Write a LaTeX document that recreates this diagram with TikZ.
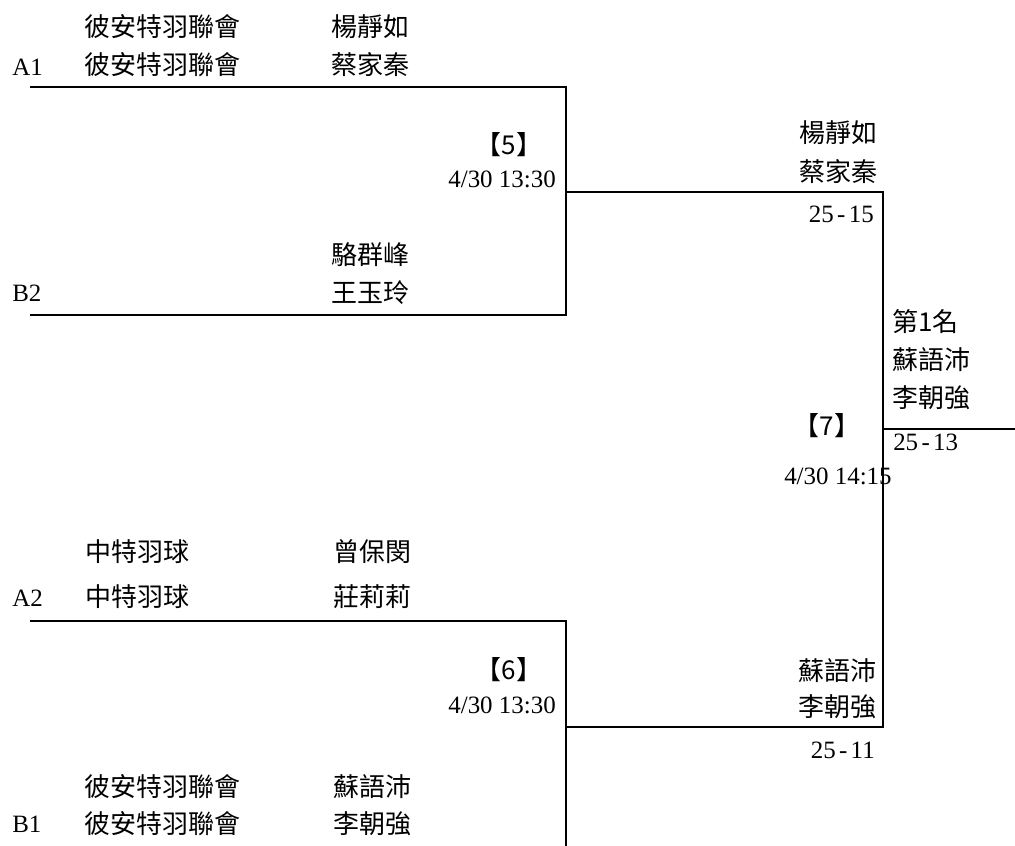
\documentclass[tikz,border=0pt]{standalone}
\usepackage{fontspec}
\setmainfont{Liberation Serif}
\newfontfamily\cjk{Noto Sans CJK TC}
\usepackage{tikz}

\begin{document}
\begin{tikzpicture}[x=0.75pt,y=-0.75pt,
    lbl/.style={inner sep=0pt,font=\fontsize{18.7}{22}\selectfont},
    zh/.style={inner sep=0pt,font=\fontsize{19.5}{23}\selectfont\cjk},
    bline/.style={line width=1.3pt}]
    \useasboundingbox (0,0) rectangle (1015,846);

    % seeds
    \foreach \y/\seed in {67/A1,293/B2,598/A2,824/B1}
        \node[lbl,anchor=west] (seed\seed) at (12,\y) {\seed};

    % clubs
    \node[zh,anchor=west] (clubAa) at (84,27) {彼安特羽聯會};
    \node[zh,anchor=west] (clubAb) at (84,65) {彼安特羽聯會};
    \node[zh,anchor=west] (clubCa) at (85,552) {中特羽球};
    \node[zh,anchor=west] (clubCb) at (85,597) {中特羽球};
    \node[zh,anchor=west] (clubDa) at (84,787) {彼安特羽聯會};
    \node[zh,anchor=west] (clubDb) at (84,824) {彼安特羽聯會};

    % players
    \node[zh,anchor=west] (plA1) at (331,27) {楊靜如};
    \node[zh,anchor=west] (plA2) at (331,65) {蔡家秦};
    \node[zh,anchor=west] (plB1) at (331,255) {駱群峰};
    \node[zh,anchor=west] (plB2) at (331,293) {王玉玲};
    \node[zh,anchor=west] (plC1) at (333,552) {曾保閔};
    \node[zh,anchor=west] (plC2) at (333,597) {莊莉莉};
    \node[zh,anchor=west] (plD1) at (333,787) {蘇語沛};
    \node[zh,anchor=west] (plD2) at (333,824) {李朝強};

    % bracket
    \coordinate (a1) at (30,87);
    \coordinate (b2) at (30,315);
    \coordinate (a2) at (30,621);
    \coordinate (j5) at (566,192);
    \coordinate (j6) at (566,727);
    \coordinate (j6end) at (566,846);
    \coordinate (f5) at (883,192);
    \coordinate (f6) at (883,727);
    \coordinate (j7) at (883,429);
    \coordinate (champ) at (1015,429);

    \draw[bline] (a1) -| (j5) |- (b2);
    \draw[bline] (a2) -| (j6) -- (j6end);
    \draw[bline] (j5) -- (f5) -- (f6) -- (j6);
    \draw[bline] (j7) -- (champ);

    % match 5
    \node[zh] (m5) at (509,145) {【5】};
    \node[lbl,anchor=east] (t5) at (556,179) {4/30 13:30};
    \node[zh,anchor=east] (w5a) at (878,133) {楊靜如};
    \node[zh,anchor=east] (w5b) at (878,172) {蔡家秦};
    \node[lbl,anchor=east] (s5) at (874,214) {25\kern2.5pt-\kern2.5pt15};

    % match 6
    \node[zh] (m6) at (509,670) {【6】};
    \node[lbl,anchor=east] (t6) at (556,705) {4/30 13:30};
    \node[zh,anchor=east] (w6a) at (877,671) {蘇語沛};
    \node[zh,anchor=east] (w6b) at (877,707) {李朝強};
    \node[lbl,anchor=east] (s6) at (875,750) {25\kern2.5pt-\kern2.5pt11};

    % final
    \node[zh] (m7) at (827,426) {【7】};
    \node[lbl,anchor=west] (t7) at (784,476) {4/30 14:15};
    \node[zh,anchor=west] (rank) at (892,322) {第1名};
    \node[zh,anchor=west] (w7a) at (892,360) {蘇語沛};
    \node[zh,anchor=west] (w7b) at (892,398) {李朝強};
    \node[lbl,anchor=west] (s7) at (893,442) {25\kern2.5pt-\kern2.5pt13};
\end{tikzpicture}
\end{document}
